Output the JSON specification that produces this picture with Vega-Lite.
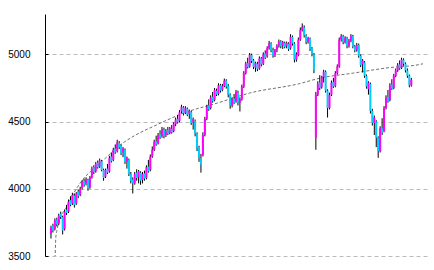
{
"$schema": "https://vega.github.io/schema/vega-lite/v6.json",
"width": 383, "height": 242,
"autosize": {"type": "none"},
"padding": {"left": 45, "top": 14, "right": 6, "bottom": 14},
"background": "white",
"config": {"view": {"stroke": null}},
"datasets": {
"k": [
{"i":0,"o":3665,"c":3710,"h":3725,"l":3630},{"i":1,"o":3725,"c":3690,"h":3740,"l":3675},{"i":2,"o":3700,"c":3765,"h":3780,"l":3690},{"i":3,"o":3770,"c":3735,"h":3785,"l":3720},{"i":4,"o":3740,"c":3800,"h":3815,"l":3730},{"i":5,"o":3815,"c":3790,"h":3830,"l":3775},{"i":6,"o":3790,"c":3690,"h":3800,"l":3660},{"i":7,"o":3700,"c":3830,"h":3845,"l":3690},{"i":8,"o":3845,"c":3820,"h":3880,"l":3805},{"i":9,"o":3830,"c":3905,"h":3920,"l":3820},
{"i":10,"o":3915,"c":3880,"h":3945,"l":3870},{"i":11,"o":3890,"c":3955,"h":3970,"l":3880},{"i":12,"o":3950,"c":3880,"h":3965,"l":3860},{"i":13,"o":3890,"c":3965,"h":3975,"l":3880},{"i":14,"o":3980,"c":3945,"h":3995,"l":3930},{"i":15,"o":3955,"c":4000,"h":4015,"l":3945},{"i":16,"o":4005,"c":4050,"h":4065,"l":3995},{"i":17,"o":4060,"c":4030,"h":4075,"l":4015},{"i":18,"o":4040,"c":4070,"h":4085,"l":4025},{"i":19,"o":4065,"c":4005,"h":4075,"l":3985},
{"i":20,"o":4010,"c":4085,"h":4095,"l":4000},{"i":21,"o":4085,"c":4150,"h":4165,"l":4075},{"i":22,"o":4160,"c":4125,"h":4175,"l":4110},{"i":23,"o":4130,"c":4185,"h":4200,"l":4120},{"i":24,"o":4195,"c":4160,"h":4210,"l":4150},{"i":25,"o":4165,"c":4210,"h":4225,"l":4155},{"i":26,"o":4205,"c":4140,"h":4215,"l":4130},{"i":27,"o":4140,"c":4080,"h":4150,"l":4060},{"i":28,"o":4090,"c":4140,"h":4150,"l":4080},{"i":29,"o":4150,"c":4120,"h":4185,"l":4110},
{"i":30,"o":4130,"c":4230,"h":4245,"l":4120},{"i":31,"o":4240,"c":4205,"h":4270,"l":4195},{"i":32,"o":4215,"c":4290,"h":4305,"l":4205},{"i":33,"o":4300,"c":4270,"h":4330,"l":4260},{"i":34,"o":4280,"c":4345,"h":4365,"l":4270},{"i":35,"o":4340,"c":4310,"h":4355,"l":4295},{"i":36,"o":4320,"c":4260,"h":4330,"l":4250},{"i":37,"o":4270,"c":4300,"h":4310,"l":4235},{"i":38,"o":4290,"c":4200,"h":4300,"l":4185},{"i":39,"o":4200,"c":4230,"h":4240,"l":4150},
{"i":40,"o":4215,"c":4110,"h":4225,"l":4095},{"i":41,"o":4110,"c":4060,"h":4125,"l":4040},{"i":42,"o":4070,"c":4040,"h":4085,"l":3965},{"i":43,"o":4040,"c":4110,"h":4125,"l":4030},{"i":44,"o":4120,"c":4080,"h":4145,"l":4060},{"i":45,"o":4085,"c":4130,"h":4140,"l":4040},{"i":46,"o":4120,"c":4060,"h":4130,"l":4030},{"i":47,"o":4065,"c":4110,"h":4125,"l":4040},{"i":48,"o":4115,"c":4075,"h":4135,"l":4060},{"i":49,"o":4080,"c":4160,"h":4175,"l":4070},
{"i":50,"o":4165,"c":4130,"h":4215,"l":4120},{"i":51,"o":4140,"c":4240,"h":4255,"l":4130},{"i":52,"o":4240,"c":4290,"h":4315,"l":4230},{"i":53,"o":4290,"c":4350,"h":4365,"l":4280},{"i":54,"o":4355,"c":4330,"h":4395,"l":4320},{"i":55,"o":4340,"c":4400,"h":4415,"l":4330},{"i":56,"o":4405,"c":4380,"h":4435,"l":4370},{"i":57,"o":4390,"c":4445,"h":4460,"l":4380},{"i":58,"o":4440,"c":4395,"h":4455,"l":4375},{"i":59,"o":4400,"c":4430,"h":4445,"l":4385},
{"i":60,"o":4435,"c":4410,"h":4460,"l":4400},{"i":61,"o":4415,"c":4450,"h":4460,"l":4405},{"i":62,"o":4445,"c":4420,"h":4475,"l":4410},{"i":63,"o":4430,"c":4480,"h":4495,"l":4420},{"i":64,"o":4480,"c":4515,"h":4530,"l":4465},{"i":65,"o":4520,"c":4495,"h":4550,"l":4485},{"i":66,"o":4505,"c":4570,"h":4585,"l":4495},{"i":67,"o":4575,"c":4610,"h":4625,"l":4560},{"i":68,"o":4605,"c":4560,"h":4615,"l":4545},{"i":69,"o":4565,"c":4600,"h":4615,"l":4555},
{"i":70,"o":4595,"c":4550,"h":4605,"l":4540},{"i":71,"o":4555,"c":4580,"h":4590,"l":4520},{"i":72,"o":4570,"c":4490,"h":4580,"l":4475},{"i":73,"o":4495,"c":4520,"h":4530,"l":4440},{"i":74,"o":4505,"c":4410,"h":4515,"l":4390},{"i":75,"o":4410,"c":4300,"h":4420,"l":4280},{"i":76,"o":4310,"c":4230,"h":4320,"l":4200},{"i":77,"o":4225,"c":4180,"h":4260,"l":4120},{"i":78,"o":4250,"c":4400,"h":4420,"l":4240},{"i":79,"o":4400,"c":4520,"h":4535,"l":4390},
{"i":80,"o":4520,"c":4610,"h":4625,"l":4510},{"i":81,"o":4620,"c":4590,"h":4665,"l":4580},{"i":82,"o":4600,"c":4680,"h":4695,"l":4590},{"i":83,"o":4685,"c":4650,"h":4720,"l":4640},{"i":84,"o":4660,"c":4735,"h":4750,"l":4650},{"i":85,"o":4730,"c":4700,"h":4745,"l":4690},{"i":86,"o":4705,"c":4770,"h":4785,"l":4695},{"i":87,"o":4770,"c":4730,"h":4780,"l":4715},{"i":88,"o":4735,"c":4765,"h":4780,"l":4725},{"i":89,"o":4765,"c":4805,"h":4820,"l":4755},
{"i":90,"o":4805,"c":4760,"h":4815,"l":4745},{"i":91,"o":4765,"c":4700,"h":4780,"l":4680},{"i":92,"o":4700,"c":4620,"h":4710,"l":4595},{"i":93,"o":4620,"c":4670,"h":4680,"l":4605},{"i":94,"o":4670,"c":4640,"h":4705,"l":4630},{"i":95,"o":4650,"c":4720,"h":4735,"l":4640},{"i":96,"o":4715,"c":4640,"h":4730,"l":4620},{"i":97,"o":4640,"c":4665,"h":4680,"l":4575},{"i":98,"o":4665,"c":4760,"h":4775,"l":4655},{"i":99,"o":4760,"c":4860,"h":4875,"l":4750},
{"i":100,"o":4860,"c":4930,"h":4945,"l":4850},{"i":101,"o":4935,"c":4905,"h":4975,"l":4895},{"i":102,"o":4910,"c":4995,"h":5010,"l":4900},{"i":103,"o":4995,"c":4950,"h":5005,"l":4935},{"i":104,"o":4955,"c":4905,"h":4965,"l":4890},{"i":105,"o":4900,"c":4935,"h":4945,"l":4870},{"i":106,"o":4930,"c":4890,"h":4945,"l":4875},{"i":107,"o":4895,"c":4970,"h":4985,"l":4885},{"i":108,"o":4970,"c":4925,"h":4980,"l":4910},{"i":109,"o":4930,"c":5000,"h":5015,"l":4920},
{"i":110,"o":5005,"c":4975,"h":5030,"l":4965},{"i":111,"o":4985,"c":5045,"h":5060,"l":4975},{"i":112,"o":5045,"c":5085,"h":5100,"l":5035},{"i":113,"o":5080,"c":5030,"h":5090,"l":5015},{"i":114,"o":5030,"c":4990,"h":5050,"l":4975},{"i":115,"o":4995,"c":5030,"h":5040,"l":4980},{"i":116,"o":5030,"c":5060,"h":5075,"l":5015},{"i":117,"o":5060,"c":5095,"h":5110,"l":5050},{"i":118,"o":5095,"c":5060,"h":5105,"l":5045},{"i":119,"o":5065,"c":5090,"h":5100,"l":5040},
{"i":120,"o":5085,"c":5055,"h":5095,"l":5045},{"i":121,"o":5060,"c":5085,"h":5095,"l":5045},{"i":122,"o":5080,"c":5040,"h":5090,"l":5025},{"i":123,"o":5045,"c":5130,"h":5150,"l":5035},{"i":124,"o":5130,"c":5080,"h":5140,"l":5065},{"i":125,"o":5080,"c":4960,"h":5090,"l":4940},{"i":126,"o":4960,"c":5000,"h":5015,"l":4945},{"i":127,"o":4995,"c":5110,"h":5125,"l":4985},{"i":128,"o":5110,"c":5180,"h":5200,"l":5100},{"i":129,"o":5180,"c":5205,"h":5230,"l":5170},
{"i":130,"o":5200,"c":5140,"h":5215,"l":5125},{"i":131,"o":5140,"c":5090,"h":5150,"l":5075},{"i":132,"o":5090,"c":5120,"h":5130,"l":5080},{"i":133,"o":5115,"c":5040,"h":5125,"l":5025},{"i":134,"o":5045,"c":5000,"h":5055,"l":4985},{"i":135,"o":5000,"c":4880,"h":5010,"l":4860},{"i":136,"o":4380,"c":4700,"h":4720,"l":4290},{"i":137,"o":4700,"c":4780,"h":4800,"l":4690},{"i":138,"o":4790,"c":4750,"h":4845,"l":4735},{"i":139,"o":4755,"c":4830,"h":4840,"l":4745},
{"i":140,"o":4830,"c":4870,"h":4885,"l":4790},{"i":141,"o":4870,"c":4730,"h":4880,"l":4715},{"i":142,"o":4730,"c":4600,"h":4740,"l":4530},{"i":143,"o":4600,"c":4700,"h":4715,"l":4590},{"i":144,"o":4700,"c":4790,"h":4805,"l":4690},{"i":145,"o":4795,"c":4760,"h":4825,"l":4750},{"i":146,"o":4765,"c":4860,"h":4875,"l":4755},{"i":147,"o":4860,"c":4910,"h":4925,"l":4850},{"i":148,"o":4910,"c":5110,"h":5125,"l":4900},{"i":149,"o":5110,"c":5135,"h":5150,"l":5095},
{"i":150,"o":5135,"c":5090,"h":5145,"l":5075},{"i":151,"o":5090,"c":5120,"h":5135,"l":5080},{"i":152,"o":5120,"c":5060,"h":5130,"l":5045},{"i":153,"o":5060,"c":5100,"h":5115,"l":5050},{"i":154,"o":5100,"c":5135,"h":5150,"l":5090},{"i":155,"o":5135,"c":5060,"h":5145,"l":5045},{"i":156,"o":5060,"c":5030,"h":5070,"l":5015},{"i":157,"o":5030,"c":5070,"h":5085,"l":5020},{"i":158,"o":5070,"c":4990,"h":5080,"l":4975},{"i":159,"o":4990,"c":4920,"h":5000,"l":4905},
{"i":160,"o":4925,"c":4955,"h":4965,"l":4865},{"i":161,"o":4940,"c":4840,"h":4950,"l":4825},{"i":162,"o":4840,"c":4760,"h":4850,"l":4745},{"i":163,"o":4740,"c":4790,"h":4800,"l":4700},{"i":164,"o":4780,"c":4580,"h":4790,"l":4560},{"i":165,"o":4580,"c":4490,"h":4595,"l":4470},{"i":166,"o":4490,"c":4530,"h":4545,"l":4400},{"i":167,"o":4500,"c":4380,"h":4510,"l":4310},{"i":168,"o":4380,"c":4280,"h":4390,"l":4230},{"i":169,"o":4280,"c":4450,"h":4465,"l":4270},
{"i":170,"o":4450,"c":4420,"h":4525,"l":4400},{"i":171,"o":4430,"c":4600,"h":4615,"l":4420},{"i":172,"o":4600,"c":4680,"h":4695,"l":4590},{"i":173,"o":4685,"c":4650,"h":4735,"l":4640},{"i":174,"o":4660,"c":4770,"h":4785,"l":4650},{"i":175,"o":4775,"c":4745,"h":4815,"l":4735},{"i":176,"o":4750,"c":4840,"h":4855,"l":4740},{"i":177,"o":4840,"c":4880,"h":4895,"l":4830},{"i":178,"o":4880,"c":4920,"h":4935,"l":4870},{"i":179,"o":4925,"c":4895,"h":4955,"l":4885},
{"i":180,"o":4900,"c":4960,"h":4975,"l":4890},{"i":181,"o":4960,"c":4930,"h":4970,"l":4915},{"i":182,"o":4930,"c":4880,"h":4940,"l":4865},{"i":183,"o":4880,"c":4840,"h":4895,"l":4825},{"i":184,"o":4840,"c":4770,"h":4850,"l":4755},{"i":185,"o":4770,"c":4810,"h":4825,"l":4760}
],
"trend": [
{"t":1.7,"v":3300},{"t":2.1,"v":3480},{"t":2.5,"v":3640},{"t":3.2,"v":3700},{"t":5,"v":3790},{"t":8,"v":3865},{"t":12,"v":3975},{"t":17,"v":4080},{"t":22,"v":4150},{"t":27,"v":4215},{"t":35.5,"v":4325},{"t":43.5,"v":4400},{"t":53,"v":4467},{"t":68.5,"v":4565},{"t":85.5,"v":4638},{"t":102,"v":4712},{"t":127,"v":4780},{"t":138.5,"v":4824},{"t":155.5,"v":4861},{"t":172,"v":4898},{"t":190.5,"v":4928},{"t":191,"v":4930}
]
},
"layer": [
{
"data": {"name": "trend"},
"mark": {"type": "line", "color": "#707070", "strokeWidth": 1, "strokeDash": [3, 2], "interpolate": "monotone", "clip": true},
"encoding": {
"x": {"field": "t", "type": "quantitative", "scale": {"domain": [-0.5, 191], "nice": false, "zero": false}, "axis": null},
"y": {"field": "v", "type": "quantitative", "scale": {"domain": [3500, 5300], "nice": false, "zero": false},
"axis": {"values": [3500, 4000, 4500, 5000], "format": "d", "title": null, "grid": true, "gridColor": "#bbbbbb", "gridDash": [4, 3], "gridWidth": 1, "domainColor": "#000000", "domainWidth": 1, "tickColor": "#000000", "tickSize": -3, "labelPadding": 18, "labelAlign": "right", "labelFont": "Liberation Sans", "labelFontSize": 10, "labelColor": "#000000"}}
}
},
{
"data": {"name": "k"},
"mark": {"type": "rule", "color": "#000000", "strokeWidth": 1},
"encoding": {
"x": {"field": "i", "type": "quantitative"},
"y": {"field": "l", "type": "quantitative"},
"y2": {"field": "h"}
}
},
{
"data": {"name": "k"},
"mark": {"type": "bar", "size": 2},
"encoding": {
"x": {"field": "i", "type": "quantitative"},
"y": {"field": "o", "type": "quantitative"},
"y2": {"field": "c"},
"color": {"condition": {"test": "datum.c > datum.o", "value": "#ff00ff"}, "value": "#00ccff"}
}
}
]
}
